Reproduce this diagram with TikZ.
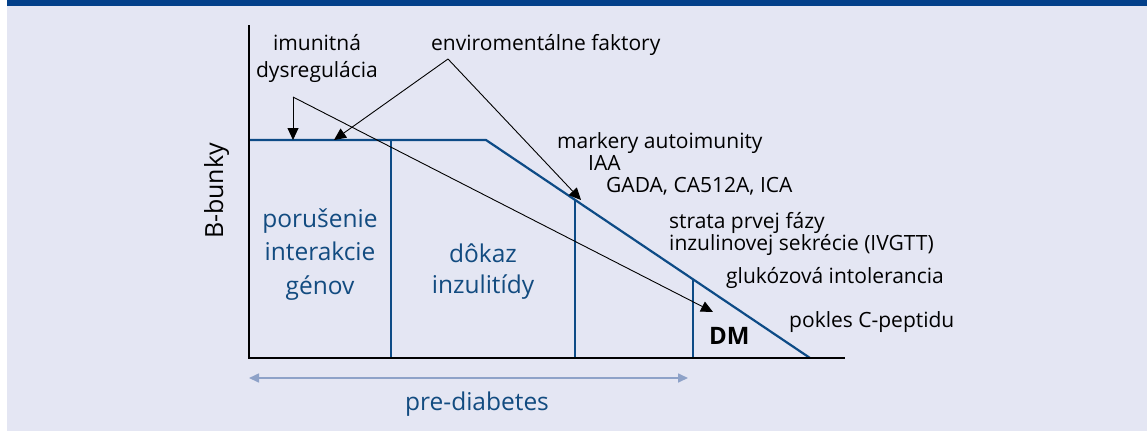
\documentclass[tikz,border=0pt]{standalone}
\usepackage{fontspec}
\setmainfont{Open Sans}
\usetikzlibrary{arrows.meta}
\definecolor{bg}{HTML}{E4E6F3}
\definecolor{topbar}{HTML}{03408A}
\definecolor{dblue}{HTML}{0D4B86}
\definecolor{tblue}{HTML}{124B80}
\definecolor{lblue}{HTML}{8EA2C8}
\tikzset{
  blueline/.style={draw=dblue, line width=2.2pt},
  axisline/.style={draw=black, line width=1.4pt},
  pointer/.style={draw=black, line width=0.9pt, -{Triangle[length=12pt,width=11pt]}},
  lbl/.style={inner sep=0pt, font=\fontsize{21}{24}\selectfont, text=black},
  blbl/.style={inner sep=0pt, font=\fontsize{24.5}{33}\selectfont, text=tblue, align=center},
}
\begin{document}
\begin{tikzpicture}[x=1pt, y=-1pt]
\useasboundingbox (0,0) rectangle (1147,431);
\fill[white] (0,0) rectangle (1147,431);
\fill[bg] (7,0) rectangle (1147,431);
\fill[topbar] (7,0) rectangle (1147,6);
% coordinates
\coordinate (O) at (249,358);
\coordinate (Ytop) at (249,25);
\coordinate (Xend) at (845,358);
\coordinate (P0) at (249,140);
\coordinate (P1) at (486,140);
\coordinate (P2) at (810,358);
\coordinate (V1t) at (391,140);
\coordinate (V1b) at (391,358);
\coordinate (V2t) at (575,200);
\coordinate (V2b) at (575,358);
\coordinate (V3t) at (693,279);
\coordinate (V3b) at (693,358);
\coordinate (imA) at (293,97);
\coordinate (imT) at (293,140);
\coordinate (dmT) at (713,312);
\coordinate (envA) at (448,59);
\coordinate (envL) at (334,140);
\coordinate (envR) at (581,200);
\coordinate (pdL) at (249,378);
\coordinate (pdR) at (688,378);
% blue curve
\draw[blueline] (P0) -- (P1) -- (P2);
\draw[blueline] (V1t) -- (V1b);
\draw[blueline] (V2t) -- (V2b);
\draw[blueline] (V3t) -- (V3b);
% axes
\draw[axisline] (Ytop) -- (O) -- (Xend);
% pointers
\draw[pointer] (imA) -- (imT);
\draw[pointer] (imA) -- (dmT);
\draw[pointer] (envA) -- (envL);
\draw[pointer] (envA) -- (envR);
% pre-diabetes arrow
\draw[draw=lblue, line width=1.6pt, {Triangle[length=10pt,width=9pt]}-{Triangle[length=10pt,width=9pt]}] (pdL) -- (pdR);
% labels
\node[lbl, anchor=base] (im1) at (317,50) {imunitná};
\node[lbl, anchor=base] (im2) at (317,77) {dysregulácia};
\node[lbl, anchor=base west] (env) at (431,50) {enviromentálne faktory};
\node[lbl, anchor=base west] (mk1) at (557,148) {markery autoimunity};
\node[lbl, anchor=base west] (mk2) at (588,170) {IAA};
\node[lbl, anchor=base west] (mk3) at (606,192) {GADA, CA512A, ICA};
\node[lbl, anchor=base west] (st1) at (669,228) {strata prvej fázy};
\node[lbl, anchor=base west] (st2) at (669,250) {inzulinovej sekrécie (IVGTT)};
\node[lbl, anchor=base west] (gl) at (726,283) {glukózová intolerancia};
\node[lbl, anchor=base west] (pk) at (789,327) {pokles C-peptidu};
\node[lbl, anchor=base west, font=\fontsize{24}{26}\selectfont\bfseries] (dm) at (709,344) {DM};
\node[blbl, anchor=base] (g1) at (320,227) {porušenie};
\node[blbl, anchor=base] (g2) at (320,260) {interakcie};
\node[blbl, anchor=base] (g3) at (320,294) {génov};
\node[blbl, anchor=base] (d1) at (483,262) {dôkaz};
\node[blbl, anchor=base] (d2) at (483,293) {inzulitídy};
\node[blbl, anchor=base] (pd) at (477,410) {pre-diabetes};
\node[lbl, font=\fontsize{25}{28}\selectfont, rotate=90, anchor=base] (bb) at (223,191) {B-bunky};
\end{tikzpicture}
\end{document}
